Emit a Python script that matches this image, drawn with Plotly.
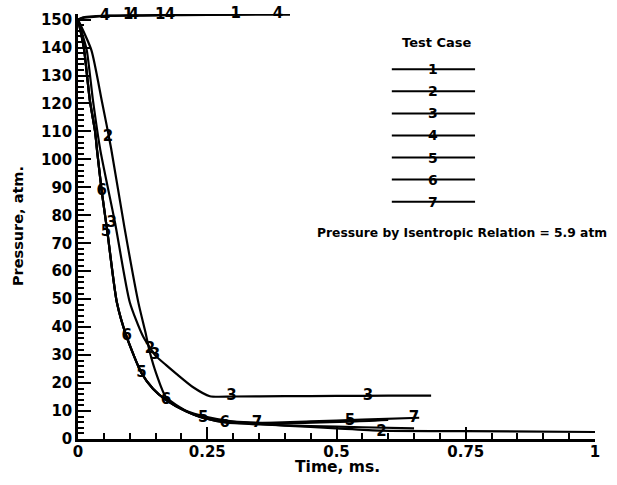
import plotly.graph_objects as go

FONT = "DejaVu Sans"

# ---------------- data (time in ms, pressure in atm) ----------------
t1 = [0, 0.01, 0.03, 0.06, 0.10, 0.15, 0.20, 0.30, 0.41]
p1 = [150, 150.8, 151.2, 151.4, 151.5, 151.6, 151.7, 151.8, 151.9]
t4 = [0, 0.01, 0.03, 0.06, 0.10, 0.15, 0.20, 0.30, 0.41]
p4 = [150, 150.6, 151.0, 151.3, 151.4, 151.5, 151.6, 151.8, 151.9]
t2 = [0, 0.026, 0.046, 0.064, 0.090, 0.117, 0.130, 0.139, 0.152, 0.170, 0.21, 0.25, 0.30, 0.40, 0.50, 0.587, 0.75, 1.0]
p2 = [150, 139, 121, 104, 75.5, 48.6, 38.5, 31, 23, 15, 10, 7.8, 6.2, 4.8, 3.8, 3.0, 2.8, 2.5]
t3 = [0, 0.008, 0.017, 0.029, 0.043, 0.072, 0.100, 0.125, 0.149, 0.170, 0.191, 0.222, 0.255, 0.30, 0.40, 0.50, 0.60, 0.683]
p3 = [150, 145, 139, 121, 103.5, 77, 49, 37, 30, 26.5, 23.2, 18.6, 15.3, 15.2, 15.3, 15.4, 15.5, 15.5]
t5 = [0, 0.006, 0.012, 0.023, 0.033, 0.037, 0.046, 0.057, 0.075, 0.094, 0.123, 0.145, 0.170, 0.21, 0.242, 0.30, 0.40, 0.526, 0.60]
p5 = [150, 145, 139, 121, 110, 103, 88.5, 73.8, 49, 36.6, 23.5, 18.0, 14, 9.8, 7.5, 6.2, 5.7, 6.2, 6.8]
t6 = [0, 0.006, 0.012, 0.023, 0.033, 0.037, 0.046, 0.057, 0.075, 0.094, 0.123, 0.145, 0.170, 0.21, 0.242, 0.284, 0.35, 0.45, 0.55, 0.65]
p6 = [150, 145, 139, 121, 110, 103, 88.5, 73.8, 49, 36.6, 23.5, 18.0, 14, 9.8, 7.6, 5.9, 5.2, 4.6, 4.2, 3.8]
t7 = [0, 0.006, 0.012, 0.023, 0.033, 0.037, 0.046, 0.057, 0.075, 0.094, 0.123, 0.145, 0.170, 0.21, 0.242, 0.284, 0.346, 0.45, 0.55, 0.66]
p7 = [150, 145, 139, 121, 110, 103, 88.5, 73.8, 49, 36.6, 23.5, 18.0, 14, 9.8, 7.6, 6.0, 5.7, 6.3, 6.9, 7.6]

# label positions along each curve
lt1 = [0.097, 0.159, 0.305]
lp1 = [151.5, 151.6, 151.8]
lt4 = [0.052, 0.108, 0.178, 0.387]
lp4 = [151.3, 151.4, 151.6, 151.9]
lt2 = [0.058, 0.139, 0.587]
lp2 = [108, 32, 2.5]
lt3 = [0.065, 0.149, 0.297, 0.561]
lp3 = [77.3, 30, 15.2, 15.4]
lt5 = [0.054, 0.123, 0.242, 0.526]
lp5 = [73.8, 23.5, 7.5, 6.2]
lt6 = [0.046, 0.094, 0.170, 0.284]
lp6 = [88.5, 36.6, 14, 5.7]
lt7 = [0.346, 0.65]
lp7 = [5.7, 7.5]

case_names = ["1", "2", "3", "4", "5", "6", "7"]
legend_title = "Test Case"
note_text = "Pressure by Isentropic Relation = 5.9 atm"
x_title = "Time, ms."
y_title = "Pressure, atm."

series = {
    "1": (t1, p1, lt1, lp1),
    "2": (t2, p2, lt2, lp2),
    "3": (t3, p3, lt3, lp3),
    "4": (t4, p4, lt4, lp4),
    "5": (t5, p5, lt5, lp5),
    "6": (t6, p6, lt6, lp6),
    "7": (t7, p7, lt7, lp7),
}

fig = go.Figure()
for name in case_names:
    t, p, lt, lp = series[name]
    fig.add_trace(go.Scatter(x=t, y=p, mode="lines",
                             line=dict(color="black", width=2.2, shape="spline", smoothing=0.6),
                             showlegend=False, hoverinfo="skip"))
    fig.add_trace(go.Scatter(x=lt, y=lp, mode="text", text=[name] * len(lt),
                             textposition="middle center",
                             textfont=dict(family=FONT, size=15, color="black", weight="bold"),
                             cliponaxis=False, showlegend=False, hoverinfo="skip"))

# ---------------- legend (drawn as annotations/shapes) ----------------
L_X0, L_X1, L_XN = 0.607, 0.768, 0.687
L_Y0, L_DY = 0.8699, 0.0519
annotations = [dict(text=legend_title, x=0.694, y=0.934, xref="paper", yref="paper",
                    showarrow=False, xanchor="center", yanchor="middle",
                    font=dict(family=FONT, size=13, color="black", weight="bold"))]
shapes = []
for i, name in enumerate(case_names):
    yy = L_Y0 - i * L_DY
    shapes.append(dict(type="line", xref="paper", yref="paper", x0=L_X0, x1=L_X1,
                       y0=yy, y1=yy, line=dict(color="black", width=2)))
    annotations.append(dict(text=name, x=L_XN, y=yy, xref="paper", yref="paper",
                            showarrow=False, xanchor="center", yanchor="middle",
                            font=dict(family=FONT, size=14, color="black", weight="bold")))
annotations.append(dict(text=note_text, x=0.743, y=0.485, xref="paper", yref="paper",
                        showarrow=False, xanchor="center", yanchor="middle",
                        font=dict(family=FONT, size=12.3, color="black", weight="bold")))
# axis titles
annotations.append(dict(text=x_title, x=0.501, y=-0.066, xref="paper", yref="paper",
                        showarrow=False, xanchor="center", yanchor="middle",
                        font=dict(family=FONT, size=15.5, color="black", weight="bold")))
annotations.append(dict(text=y_title, x=-0.116, y=0.501, xref="paper", yref="paper",
                        showarrow=False, xanchor="center", yanchor="middle", textangle=-90,
                        font=dict(family=FONT, size=14.5, color="black", weight="bold")))

axis_font = dict(family=FONT, size=15, color="black", weight="bold")
fig.update_layout(
    width=617, height=485,
    margin=dict(l=78, r=22, t=14, b=46),
    paper_bgcolor="white", plot_bgcolor="white",
    showlegend=False,
    annotations=annotations, shapes=shapes,
    xaxis=dict(range=[0, 1], tick0=0, dtick=0.25, ticks="inside", ticklen=12, tickwidth=2,
               tickcolor="black", showline=True, linewidth=2.5, linecolor="black",
               showgrid=False, zeroline=False, tickfont=axis_font, automargin=False,
               ticklabelstandoff=-3,
               minor=dict(dtick=0.05, ticks="inside", ticklen=6, tickwidth=1.5,
                          tickcolor="black", showgrid=False)),
    yaxis=dict(range=[0, 152], tick0=0, dtick=10, ticks="inside", ticklen=13, tickwidth=2,
               tickcolor="black", showline=True, linewidth=2.5, linecolor="black",
               showgrid=False, zeroline=False, tickfont=axis_font, automargin=False,
               minor=dict(dtick=2, ticks="inside", ticklen=6, tickwidth=1.5,
                          tickcolor="black", showgrid=False)),
)

fig.write_html("out.html", config={"displayModeBar": False},
               post_script="document.body.style.margin='0';document.body.style.overflow='hidden';")
